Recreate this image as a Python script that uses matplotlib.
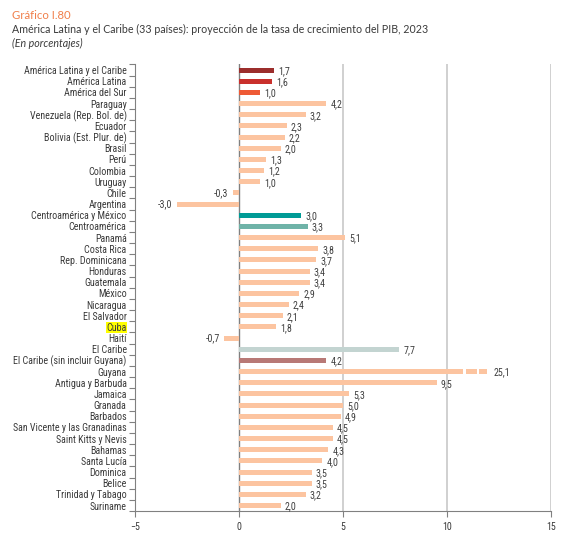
import numpy as np
import matplotlib.pyplot as plt
from matplotlib import font_manager
from matplotlib.textpath import TextPath
from matplotlib.font_manager import FontProperties

# Datos
paises = ['América Latina y el Caribe', 'América Latina', 'América del Sur', 'Paraguay',
          'Venezuela (Rep. Bol. de)', 'Ecuador', 'Bolivia (Est. Plur. de)', 'Brasil', 'Perú',
          'Colombia', 'Uruguay', 'Chile', 'Argentina', 'Centroamérica y México', 'Centroamérica',
          'Panamá', 'Costa Rica', 'Rep. Dominicana', 'Honduras', 'Guatemala', 'México',
          'Nicaragua', 'El Salvador', 'Cuba', 'Haití', 'El Caribe', 'El Caribe (sin incluir Guyana)',
          'Guyana', 'Antigua y Barbuda', 'Jamaica', 'Granada', 'Barbados',
          'San Vicente y las Granadinas', 'Saint Kitts y Nevis', 'Bahamas', 'Santa Lucía',
          'Dominica', 'Belice', 'Trinidad y Tabago', 'Suriname']
valores = [1.7, 1.6, 1.0, 4.2, 3.2, 2.3, 2.2, 2.0, 1.3, 1.2, 1.0, -0.3, -3.0, 3.0, 3.3,
           5.1, 3.8, 3.7, 3.4, 3.4, 2.9, 2.4, 2.1, 1.8, -0.7, 7.7, 4.2,
           25.1, 9.5, 5.3, 5.0, 4.9, 4.5, 4.5, 4.3, 4.0, 3.5, 3.5, 3.2, 2.0]

colores_esp = {
    'América Latina y el Caribe': '#9c2e2c',
    'América Latina': '#c9302c',
    'América del Sur': '#ee5a36',
    'Centroamérica y México': '#009b96',
    'Centroamérica': '#6fb3a8',
    'El Caribe': '#c3d4d1',
    'El Caribe (sin incluir Guyana)': '#b87976',
}
color_base = '#fcc4a0'
corte = 10.75  # donde se corta la barra de Guyana

# buscar una fuente estrecha si hay
disp = {f.name for f in font_manager.fontManager.ttflist}
estrechas = {f.name for f in font_manager.fontManager.ttflist if f.stretch in ('condensed', 'semi-condensed')}
fuente = 'Roboto' if 'Roboto' in disp else 'Liberation Sans'
estira = 'normal'
for n in ['Liberation Sans Narrow', 'Roboto Condensed', 'Open Sans Condensed']:
    if n in disp:
        fuente = n
        break
else:
    if 'DejaVu Sans' in estrechas:
        fuente, estira = 'DejaVu Sans', 'condensed'
fuente_tit = 'Lato' if 'Lato' in disp else 'DejaVu Sans'


def ajustar(texto, px, familia, estilo='normal', stretch='normal'):
    # tamaño en puntos para que el texto mida px de ancho
    fp = FontProperties(family=familia, style=estilo, stretch=stretch)
    w = TextPath((0, 0), texto, size=10, prop=fp).get_extents().width * 100 / 72
    return 10 * px / w


tam_lab = ajustar('América Latina y el Caribe', 102, fuente, stretch=estira)
tam_lab = min(tam_lab, 9)
tam_val = tam_lab

plt.rcParams['font.family'] = [fuente, 'DejaVu Sans']
plt.rcParams['font.stretch'] = estira

fig = plt.figure(figsize=(5.65, 5.42), dpi=100)
ax = fig.add_axes([0.239, 0.057, 0.736, 0.824])

y = np.arange(len(paises))
cols = [colores_esp.get(p, color_base) for p in paises]
vals_plot = [min(v, corte) for v in valores]
ax.barh(y, vals_plot, height=0.45, color=cols, zorder=3)

# corte de Guyana
ig = paises.index('Guyana')
for a, b in [(10.9, 11.45), (11.55, 11.95)]:
    ax.barh(ig, b - a, left=a, height=0.45, color=color_base, zorder=3)

for i, v in enumerate(valores):
    txt = f'{v:.1f}'.replace('.', ',')
    if v < 0:
        ax.text(v - 0.2, i + 0.05, txt, ha='right', va='center', fontsize=tam_val, color='#404040')
    else:
        xv = 12.05 if v > corte else v
        ax.text(xv + 0.2, i + 0.1, txt, ha='left', va='center', fontsize=tam_val, color='#404040')

ax.set_xlim(-5, 15)
ax.set_ylim(len(paises) - 0.5, -0.5)
ax.set_xticks([-5, 0, 5, 10, 15])
ax.set_yticks(y)
ax.set_yticklabels(paises)
ax.set_yticks(np.arange(-0.5, len(paises), 1), minor=True)
ax.tick_params(axis='y', which='major', length=0, labelsize=tam_lab, labelcolor='#3a3a3a', pad=6)
ax.tick_params(axis='y', which='minor', length=4, color='#808080', width=0.8)
ax.tick_params(axis='x', length=4, color='#808080', labelsize=tam_val, labelcolor='#3a3a3a')

for t in ax.get_yticklabels():
    if t.get_text() == 'Cuba':
        t.set_bbox(dict(facecolor='#ffff00', edgecolor='none', pad=0.3))

for xv in [5, 10, 15]:
    ax.axvline(xv, color='#c8c8c8', lw=1.2, zorder=1)
ax.axvline(0, color='#808080', lw=1, zorder=2)

for s in ['top', 'right']:
    ax.spines[s].set_visible(False)
for s in ['left', 'bottom']:
    ax.spines[s].set_color('#808080')

subt = 'América Latina y el Caribe (33 países): proyección de la tasa de crecimiento del PIB, 2023'
fig.text(0.021, 0.972, 'Gráfico I.80', color='#f07f4a', family=[fuente_tit, 'DejaVu Sans'], stretch='normal',
         fontsize=ajustar('Gráfico I.80', 58, fuente_tit), va='center')
fig.text(0.021, 0.945, subt, color='#3a3a3a', family=[fuente_tit, 'DejaVu Sans'], stretch='normal',
         fontsize=ajustar(subt, 413, fuente_tit), va='center')
fig.text(0.021, 0.919, '(En porcentajes)', color='#3a3a3a', style='italic', stretch='normal',
         family=[fuente_tit, 'DejaVu Sans'],
         fontsize=ajustar('(En porcentajes)', 70, fuente_tit, estilo='italic'), va='center')

fig.savefig('out.png', dpi=100)
